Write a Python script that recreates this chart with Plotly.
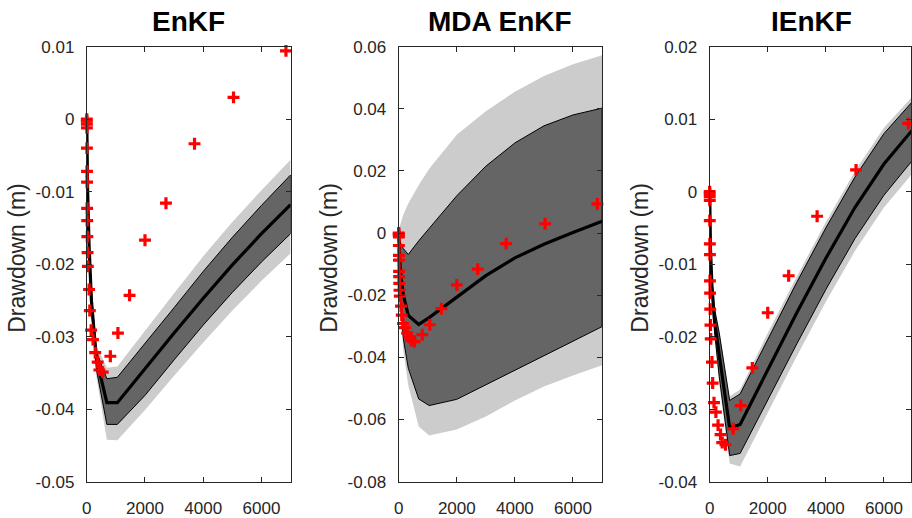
import plotly.graph_objects as go

# ---------------- data ----------------
t_model = [0, 10, 30, 80, 160, 330, 690, 1050, 2000, 3000, 4000, 5000, 6000, 7000]

enkf_mean    = [0, -0.0040, -0.0100, -0.0175, -0.0250, -0.0330, -0.0391, -0.0391, -0.0344, -0.0295, -0.0247, -0.0201, -0.0158, -0.0118]
enkf_dark_up = [0, -0.0038, -0.0095, -0.0168, -0.0240, -0.0320, -0.0358, -0.0356, -0.0310, -0.0260, -0.0210, -0.0163, -0.0119, -0.0077]
enkf_dark_lo = [0, -0.0042, -0.0105, -0.0182, -0.0262, -0.0345, -0.0421, -0.0421, -0.0381, -0.0332, -0.0284, -0.0239, -0.0197, -0.0158]
enkf_lite_up = [0, -0.0036, -0.0092, -0.0163, -0.0233, -0.0312, -0.0343, -0.0341, -0.0291, -0.0240, -0.0189, -0.0142, -0.0098, -0.0056]
enkf_lite_lo = [0, -0.0044, -0.0108, -0.0188, -0.0270, -0.0355, -0.0442, -0.0443, -0.0401, -0.0354, -0.0308, -0.0264, -0.0223, -0.0185]

mda_mean     = [0, -0.0040, -0.0080, -0.0140, -0.0200, -0.0265, -0.0294, -0.0272, -0.0205, -0.0137, -0.0080, -0.0036, 0.0002, 0.0038]
mda_dark_up  = [0, -0.0010, -0.0020, -0.0035, -0.0050, -0.0069, -0.0025, 0.0015, 0.0120, 0.0215, 0.0290, 0.0345, 0.0380, 0.0402]
mda_dark_lo  = [0, -0.0080, -0.0140, -0.0240, -0.0340, -0.0435, -0.0534, -0.0555, -0.0535, -0.0487, -0.0441, -0.0395, -0.0348, -0.0301]
mda_lite_up  = [0, 0.0010, 0.0020, 0.0035, 0.0060, 0.0095, 0.0155, 0.0207, 0.0316, 0.0392, 0.0455, 0.0505, 0.0543, 0.0572]
mda_lite_lo  = [0, -0.0090, -0.0160, -0.0270, -0.0380, -0.0490, -0.0622, -0.0651, -0.0632, -0.0590, -0.0539, -0.0494, -0.0458, -0.0425]

ienkf_mean    = [0, -0.0035, -0.0080, -0.0130, -0.0175, -0.0225, -0.0326, -0.0321, -0.0245, -0.0167, -0.0092, -0.0022, 0.0038, 0.0086]
ienkf_dark_up = [0, -0.0033, -0.0077, -0.0120, -0.0160, -0.0195, -0.0288, -0.0279, -0.0203, -0.0125, -0.0050, 0.0020, 0.0080, 0.0125]
ienkf_dark_lo = [0, -0.0037, -0.0083, -0.0140, -0.0190, -0.0255, -0.0364, -0.0361, -0.0288, -0.0210, -0.0135, -0.0065, -0.0005, 0.0044]
ienkf_lite_up = [0, -0.0032, -0.0075, -0.0115, -0.0155, -0.0190, -0.0282, -0.0273, -0.0195, -0.0117, -0.0042, 0.0028, 0.0088, 0.0132]
ienkf_lite_lo = [0, -0.0038, -0.0085, -0.0145, -0.0197, -0.0265, -0.0375, -0.0379, -0.0305, -0.0227, -0.0152, -0.0082, -0.0022, 0.0026]

t_obs = [1, 2, 3, 5, 6, 8, 10, 12, 15, 20, 28, 38, 80, 105, 150, 215, 290, 375, 433, 546,
         810, 1070, 1470, 2000, 2720, 3700, 5040, 6840]
d_obs = [0, -0.0003, -0.0007, -0.0012, -0.0040, -0.0072, -0.0087, -0.0123, -0.0140, -0.0162,
         -0.0184, -0.0203, -0.0235, -0.0264, -0.0291, -0.0304, -0.0322, -0.0335, -0.0346, -0.0349,
         -0.0327, -0.0295, -0.0243, -0.0167, -0.0116, -0.0034, 0.0030, 0.0094]

titles = ["EnKF", "MDA EnKF", "IEnKF"]
y_label = "Drawdown (m)"
x_tickvals = [0, 2000, 4000, 6000]
x_ticktext = ["0", "2000", "4000", "6000"]
y_tickvals = [[-0.05, -0.04, -0.03, -0.02, -0.01, 0, 0.01],
              [-0.08, -0.06, -0.04, -0.02, 0, 0.02, 0.04, 0.06],
              [-0.04, -0.03, -0.02, -0.01, 0, 0.01, 0.02]]
y_ticktext = [["-0.05", "-0.04", "-0.03", "-0.02", "-0.01", "0", "0.01"],
              ["-0.08", "-0.06", "-0.04", "-0.02", "0", "0.02", "0.04", "0.06"],
              ["-0.04", "-0.03", "-0.02", "-0.01", "0", "0.01", "0.02"]]
y_ranges = [[-0.05, 0.01], [-0.08, 0.06], [-0.04, 0.02]]

panels = [
    (enkf_mean, enkf_dark_up, enkf_dark_lo, enkf_lite_up, enkf_lite_lo),
    (mda_mean, mda_dark_up, mda_dark_lo, mda_lite_up, mda_lite_lo),
    (ienkf_mean, ienkf_dark_up, ienkf_dark_lo, ienkf_lite_up, ienkf_lite_lo),
]

# ---------------- layout geometry (pixels) ----------------
W, H = 912, 518
plot_left = [82.3, 396.3, 709.3]
plot_right = [287.5, 601.0, 914.0]
plot_top, plot_bottom = 39.0, 490.7

LIGHT = "#cccccc"
DARK = "#656565"
AXC = "#262626"
FONT = "Liberation Sans, Arial, Helvetica, sans-serif"

fig = go.Figure()

for i, (mean, dup, dlo, lup, llo) in enumerate(panels):
    xa = "x" if i == 0 else f"x{i+1}"
    ya = "y" if i == 0 else f"y{i+1}"
    fig.add_trace(go.Scatter(x=t_model + t_model[::-1], y=lup + llo[::-1], fill="toself",
                             fillcolor=LIGHT, line=dict(width=0, color=LIGHT), mode="lines",
                             xaxis=xa, yaxis=ya, hoverinfo="skip"))
    fig.add_trace(go.Scatter(x=t_model + t_model[::-1], y=dup + dlo[::-1], fill="toself",
                             fillcolor=DARK, line=dict(width=1, color="black"), mode="lines",
                             xaxis=xa, yaxis=ya, hoverinfo="skip"))
    fig.add_trace(go.Scatter(x=t_model, y=mean, mode="lines", line=dict(width=3.2, color="black"),
                             xaxis=xa, yaxis=ya))
    fig.add_trace(go.Scatter(x=t_obs, y=d_obs, mode="markers", cliponaxis=False,
                             marker=dict(symbol="cross-thin", size=8.5,
                                         line=dict(width=3.2, color="#ff0000"), color="#ff0000"),
                             xaxis=xa, yaxis=ya))

layout = dict(width=W, height=H, margin=dict(l=0, r=0, t=0, b=0),
              paper_bgcolor="white", plot_bgcolor="white", showlegend=False,
              font=dict(family=FONT, color=AXC))

annotations = []
for i in range(3):
    xk = "xaxis" if i == 0 else f"xaxis{i+1}"
    yk = "yaxis" if i == 0 else f"yaxis{i+1}"
    right_px = min(plot_right[i], W)
    x_end = 7000 * (right_px - plot_left[i]) / (plot_right[i] - plot_left[i])
    layout[xk] = dict(domain=[plot_left[i] / W, right_px / W], range=[0, x_end],
                      anchor="y" if i == 0 else f"y{i+1}",
                      tickvals=x_tickvals, ticktext=x_ticktext, ticks="inside", ticklen=5,
                      tickwidth=1, tickcolor=AXC, showline=True, linecolor=AXC, linewidth=1,
                      mirror="ticks", showgrid=False, zeroline=False,
                      tickfont=dict(size=17, color=AXC, family=FONT), ticklabelstandoff=11)
    layout[yk] = dict(domain=[1 - plot_bottom / H, 1 - plot_top / H], range=y_ranges[i],
                      anchor="x" if i == 0 else f"x{i+1}",
                      tickvals=y_tickvals[i], ticktext=y_ticktext[i], ticks="inside", ticklen=5,
                      tickwidth=1, tickcolor=AXC, showline=True, linecolor=AXC, linewidth=1,
                      mirror="ticks", showgrid=False, zeroline=False,
                      tickfont=dict(size=17, color=AXC, family=FONT), ticklabelstandoff=8)
    cx = (plot_left[i] + plot_right[i]) / 2
    annotations.append(dict(text=f"<b>{titles[i]}</b>", x=cx / W, y=1 - 13 / H,
                            xref="paper", yref="paper", xanchor="center", yanchor="middle",
                            showarrow=False, font=dict(size=28, color="black", family=FONT)))
    annotations.append(dict(text=y_label, x=(plot_left[i] - 71) / W, y=1 - 258 / H,
                            xref="paper", yref="paper", xanchor="center", yanchor="middle",
                            textangle=-90, showarrow=False,
                            font=dict(size=23, color=AXC, family=FONT)))

layout["annotations"] = annotations
fig.update_layout(**layout)
fig.write_html("out.html")
